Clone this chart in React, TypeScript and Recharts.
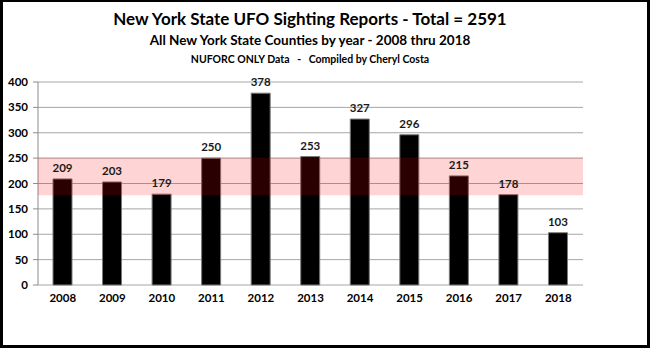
import {
  BarChart,
  Bar,
  XAxis,
  YAxis,
  CartesianGrid,
  ReferenceArea,
  LabelList,
} from "recharts";

const YEARS = ["2008", "2009", "2010", "2011", "2012", "2013", "2014", "2015", "2016", "2017", "2018"];
const REPORTS = [209, 203, 179, 250, 378, 253, 327, 296, 215, 178, 103];
const Y_TICKS = [0, 50, 100, 150, 200, 250, 300, 350, 400];
const BOUNDARY_TICKS = [0, 1, 2, 3, 4, 5, 6, 7, 8, 9, 10, 11];
const BAND_LOW = 177;
const BAND_HIGH = 251;

const FONT = "Lato, 'Open Sans', sans-serif";
const AXIS_GREY = "#8c8c8c";

const data = YEARS.map((year, i) => ({ year, reports: REPORTS[i] }));

const tickStyle = { fill: "#000", fontSize: 11.5, fontWeight: 700, fontFamily: FONT };

export default function App() {
  return (
    <div
      style={{
        position: "absolute",
        left: 0,
        top: 0,
        width: 650,
        height: 348,
        background: "#fff",
        fontFamily: FONT,
        overflow: "hidden",
      }}
    >
      <div style={{ position: "absolute", left: 0, width: 620, top: 10, textAlign: "center", lineHeight: 1 }}>
        <div style={{ fontSize: 17, fontWeight: 700, color: "#000" }}>
          New York State UFO Sighting Reports - Total = 2591
        </div>
        <div style={{ fontSize: 13.5, fontWeight: 700, color: "#000", marginTop: 7 }}>
          All New York State Counties by year - 2008 thru 2018
        </div>
        <div style={{ fontSize: 10.5, fontWeight: 700, color: "#000", marginTop: 6, whiteSpace: "pre" }}>
          {"NUFORC ONLY Data   -   Compiled by Cheryl Costa"}
        </div>
      </div>
      <BarChart
        width={650}
        height={348}
        data={data}
        margin={{ top: 82, right: 67, bottom: 33, left: 8 }}
        style={{ position: "absolute", left: 0, top: 0 }}
      >
        <CartesianGrid vertical={false} stroke="#a6a6a6" />
        <XAxis
          xAxisId="bounds"
          type="number"
          domain={[0, 11]}
          ticks={BOUNDARY_TICKS}
          height={0}
          tick={() => <g />}
          tickSize={5}
          tickLine={{ stroke: AXIS_GREY }}
          axisLine={{ stroke: AXIS_GREY }}
        />
        <XAxis
          dataKey="year"
          height={30}
          axisLine={false}
          tickLine={false}
          tick={tickStyle}
          tickSize={6}
          tickMargin={3}
          interval={0}
        />
        <YAxis
          domain={[0, 400]}
          ticks={Y_TICKS}
          width={30}
          tick={tickStyle}
          tickSize={5}
          tickMargin={5}
          tickLine={{ stroke: AXIS_GREY }}
          axisLine={{ stroke: AXIS_GREY }}
        />
        <Bar dataKey="reports" fill="#000" stroke="#7a7a7a" strokeWidth={1} barSize={19} isAnimationActive={false}>
          <LabelList
            dataKey="reports"
            position="top"
            offset={7}
            style={{ fill: "#1a1a1a", fontSize: 11.5, fontWeight: 700, fontFamily: FONT }}
          />
        </Bar>
        <ReferenceArea
          y1={BAND_LOW}
          y2={BAND_HIGH}
          fill="#ff0000"
          fillOpacity={0.17}
          stroke="none"
          zIndex={1000}
        />
      </BarChart>
      <div
        style={{
          position: "absolute",
          left: 0,
          top: 0,
          width: 650,
          height: 348,
          boxSizing: "border-box",
          borderStyle: "solid",
          borderColor: "#000",
          borderWidth: "2px 3px 3px 3px",
          pointerEvents: "none",
        }}
      />
    </div>
  );
}
